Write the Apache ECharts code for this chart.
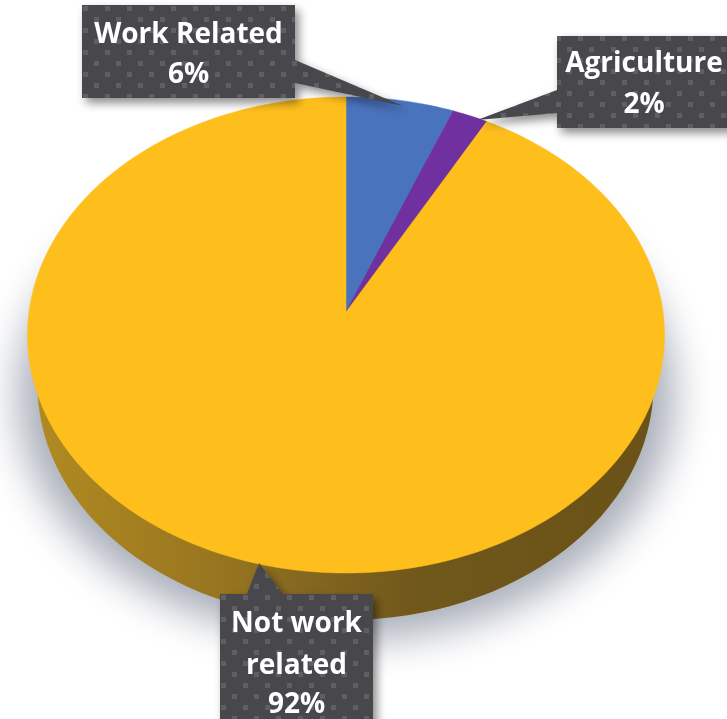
<!DOCTYPE html>
<html>
<head>
<meta charset="utf-8">
<style>html,body{margin:0;padding:0;background:#fff}#chart{width:727px;height:719px}</style>
<script src="https://cdn.jsdelivr.net/npm/echarts@6/dist/echarts.min.js"></script>
</head>
<body>
<div id="chart"></div>
<script>
// Injury share by origin
var categories = ['Work Related', 'Agriculture', 'Not work related'];
var labelLines = [['Work Related'], ['Agriculture'], ['Not work', 'related']];
var shares = [6, 2, 92];
var sliceColors = ['#4A73BE', '#7030A0', '#FEBF1D'];

// Tilted disc: a circle under a perspective projection, apex at the disc centre.
var disc = { cx: 346, cy: 312, a: 317, b: 235.8, k: 0.0966 };
var rimEllipse = { cx: 345.5, cy: 385, rx: 308, ry: 235 };

// The ground shadow is cast from an ellipse parked off-canvas, so only its soft edge shows.
var shadowShift = 2000;
var castShadow = { cx: 346 - shadowShift, cy: 395, rx: 328, ry: 245 };

// Callout boxes with their pointer triangles.
var callouts = [
  { x: 82, y: 5, w: 213, h: 93, base: [[295, 60], [295, 83]], tip: [403, 106], phase: [17, 6], textY: [35, 75] },
  { x: 557, y: 36, w: 174, h: 92, base: [[557, 90], [557, 113]], tip: [477, 120], phase: [6, 14], textY: [64, 105] },
  { x: 220, y: 594, w: 153, h: 130, base: [[283, 594], [247, 594]], tip: [259, 563], phase: [1, 1], textY: [624, 666, 705] }
];

function project(share) {
  var t = share / 100 * Math.PI * 2;
  var u = Math.sin(t), v = Math.cos(t), w = 1 + disc.k * v;
  return [disc.cx + disc.a * u / w, disc.cy - disc.b * v / w];
}

function slicePoints(from, to) {
  var pts = [[disc.cx, disc.cy]];
  var steps = Math.max(2, Math.ceil((to - from) * 3));
  for (var i = 0; i <= steps; i++) {
    pts.push(project(from + (to - from) * i / steps));
  }
  return pts;
}

function dotTile() {
  var c = document.createElement('canvas');
  c.width = c.height = 22;
  var g = c.getContext('2d');
  g.fillStyle = '#47474C';
  g.fillRect(0, 0, 22, 22);
  g.fillStyle = '#5E5E63';
  g.fillRect(0, 0, 5, 5);
  g.fillRect(11, 11, 5, 5);
  return c;
}
var tile = dotTile();

var chart = echarts.init(document.getElementById('chart'), null, { renderer: 'canvas' });

var wallFill = new echarts.graphic.LinearGradient(0, 0, 1, 0, [
  { offset: 0, color: '#B08A20' },
  { offset: 0.3, color: '#977520' },
  { offset: 0.45, color: '#826620' },
  { offset: 0.62, color: '#70571A' },
  { offset: 1, color: '#6A5218' }
]);

var option = {
  animation: false,
  backgroundColor: '#ffffff',
  series: [
    {
      type: 'custom',
      coordinateSystem: 'none',
      silent: true,
      z: 1,
      data: [0],
      renderItem: function () {
        return {
          type: 'group',
          children: [
            {
              type: 'ellipse',
              shape: castShadow,
              style: { fill: '#000', shadowColor: '#A8ADB8', shadowBlur: 40, shadowOffsetX: shadowShift }
            },
            { type: 'ellipse', shape: rimEllipse, style: { fill: wallFill } }
          ]
        };
      }
    },
    {
      type: 'custom',
      name: 'Share',
      coordinateSystem: 'none',
      silent: true,
      z: 2,
      data: shares.map(function (s, i) { return { name: categories[i], value: s }; }),
      encode: { value: 0 },
      renderItem: function (params, api) {
        var i = params.dataIndex, from = 0;
        for (var j = 0; j < i; j++) from += shares[j];
        return {
          type: 'polygon',
          shape: { points: slicePoints(from, from + api.value(0)) },
          style: { fill: sliceColors[i], stroke: sliceColors[i], lineWidth: 0.5 }
        };
      }
    },
    {
      type: 'custom',
      name: 'Callouts',
      coordinateSystem: 'none',
      silent: true,
      z: 3,
      data: shares.map(function (s, i) { return { name: categories[i], value: s }; }),
      encode: { value: 0 },
      renderItem: function (params, api) {
        var i = params.dataIndex, c = callouts[i];
        var pts = [[c.x, c.y], [c.x + c.w, c.y]];
        if (c.base[0][0] === c.x + c.w) pts.push(c.base[0], c.tip, c.base[1]);
        pts.push([c.x + c.w, c.y + c.h], [c.x, c.y + c.h]);
        if (c.base[0][0] === c.x) pts.push(c.base[1], c.tip, c.base[0]);
        if (c.base[0][1] === c.y) {
          pts = [[c.x, c.y], c.base[1], c.tip, c.base[0], [c.x + c.w, c.y], [c.x + c.w, c.y + c.h], [c.x, c.y + c.h]];
        }
        var lines = labelLines[i].concat([api.value(0) + '%']);
        var children = [{
          type: 'polygon',
          shape: { points: pts },
          style: {
            fill: { image: tile, repeat: 'repeat', x: c.phase[0], y: c.phase[1] },
            shadowColor: 'rgba(0,0,0,0.45)',
            shadowBlur: 10,
            shadowOffsetX: 4,
            shadowOffsetY: 5
          }
        }];
        lines.forEach(function (line, n) {
          children.push({
            type: 'text',
            style: {
              text: line,
              x: c.x + c.w / 2,
              y: c.textY[n],
              align: 'center',
              verticalAlign: 'middle',
              fill: '#ffffff',
              font: '700 28px "Open Sans"'
            }
          });
        });
        return { type: 'group', children: children };
      }
    }
  ]
};
chart.setOption(option);
</script>
</body>
</html>
